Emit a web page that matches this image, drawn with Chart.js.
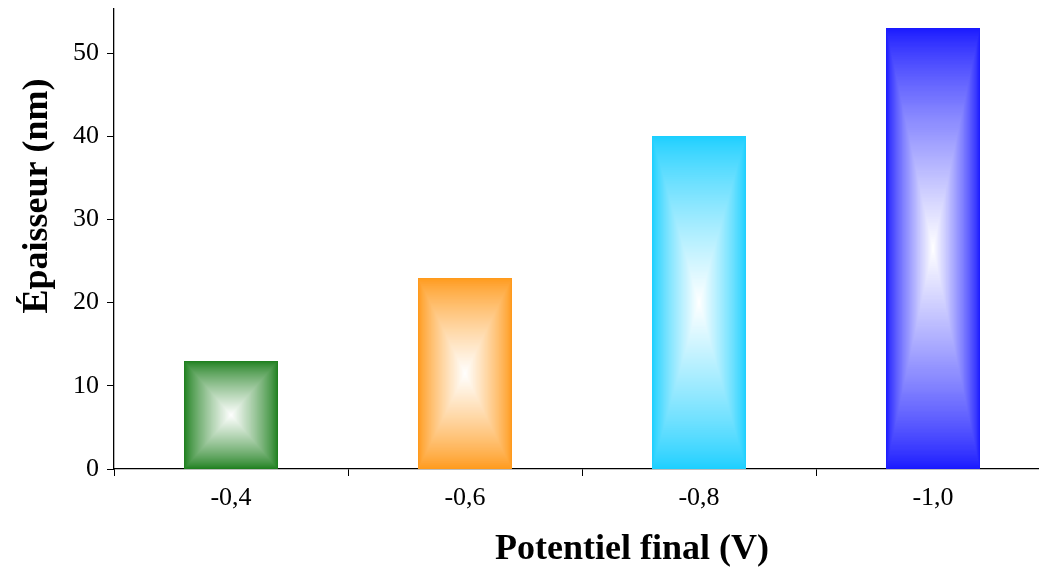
<!DOCTYPE html>
<html>
<head>
<meta charset="utf-8">
<script src="https://cdn.jsdelivr.net/npm/chart.js@4"></script>
<style>
  html, body { margin: 0; padding: 0; background: #fff; overflow: hidden; }
  #wrap { position: absolute; left: 0; top: 0; }
</style>
</head>
<body>
<div id="wrap"><canvas id="chart" width="1050" height="572"></canvas></div>
<script>
// données
const potentiels = ["-0,4", "-0,6", "-0,8", "-1,0"];
const epaisseurs = [13, 23, 40, 53];
const couleurs = [[31, 128, 31], [255, 154, 28], [28, 207, 255], [26, 26, 255]];
const yTicks = [0, 10, 20, 30, 40, 50];

const serif = "'Liberation Serif', 'DejaVu Serif', serif";

// dégradé rectangulaire : rectangles emboîtés, couleur au bord, blanc au centre
function rectGradient(ctx, l, t, r, b, rgb) {
    const cx = (l + r) / 2, cy = (t + b) / 2;
    const hw = (r - l) / 2, hh = (b - t) / 2;
    const n = Math.max(40, Math.ceil(Math.max(hw, hh)));
    for (let k = 0; k < n; k++) {
        const f = 1 - k / n;
        const m = Math.pow(k / n, 0.8);
        const c = rgb.map(v => Math.round(v + (255 - v) * m));
        ctx.fillStyle = `rgb(${c[0]},${c[1]},${c[2]})`;
        ctx.fillRect(cx - hw * f, cy - hh * f, 2 * hw * f, 2 * hh * f);
    }
}

const gradientBars = {
    id: "gradientBars",
    afterDatasetsDraw(chart) {
        const ctx = chart.ctx;
        const meta = chart.getDatasetMeta(0);
        ctx.save();
        meta.data.forEach((bar, i) => {
            const p = bar.getProps(["x", "y", "base", "width"], true);
            const l = Math.round(p.x - p.width / 2), r = Math.round(p.x + p.width / 2);
            const t = Math.round(p.y), b = Math.round(p.base);
            rectGradient(ctx, l, t, r, b, couleurs[i]);
        });
        ctx.restore();
    }
};

// titres des axes
const axisTitles = {
    id: "axisTitles",
    afterDraw(chart) {
        const ctx = chart.ctx;
        ctx.save();
        ctx.fillStyle = "#000";
        ctx.font = "bold 36px " + serif;
        ctx.textAlign = "center";
        ctx.textBaseline = "middle";
        ctx.fillText("Potentiel final (V)", 632, 550);
        ctx.translate(38, 196);
        ctx.rotate(-Math.PI / 2);
        ctx.fillText("Épaisseur (nm)", 0, 0);
        ctx.restore();
    }
};

new Chart(document.getElementById("chart"), {
    type: "bar",
    data: {
        labels: potentiels,
        datasets: [{
            data: epaisseurs,
            backgroundColor: "rgba(0,0,0,0)",
            categoryPercentage: 1,
            barPercentage: 0.4
        }]
    },
    options: {
        responsive: false,
        animation: false,
        layout: { padding: { top: 9, right: 0, left: 0, bottom: 0 } },
        plugins: { legend: { display: false }, tooltip: { enabled: false } },
        scales: {
            x: {
                afterFit: s => { s.height = 103; s.paddingLeft = 0; s.paddingRight = 0; },
                grid: { drawOnChartArea: false, drawTicks: true, tickLength: 7, color: "#000", offset: true },
                border: { color: "#000", width: 1.3 },
                ticks: { color: "#000", font: { family: serif, size: 26 }, padding: 7 }
            },
            y: {
                min: 0,
                max: 55.3,
                afterFit: s => { s.width = 114; s.paddingTop = 0; s.paddingBottom = 0; },
                afterBuildTicks: s => { s.ticks = yTicks.map(v => ({ value: v })); },
                grid: { drawOnChartArea: false, drawTicks: true, tickLength: 7, color: "#000" },
                border: { color: "#000", width: 1.3 },
                ticks: { color: "#000", font: { family: serif, size: 26 }, padding: 8 }
            }
        }
    },
    plugins: [gradientBars, axisTitles]
});
</script>
</body>
</html>
